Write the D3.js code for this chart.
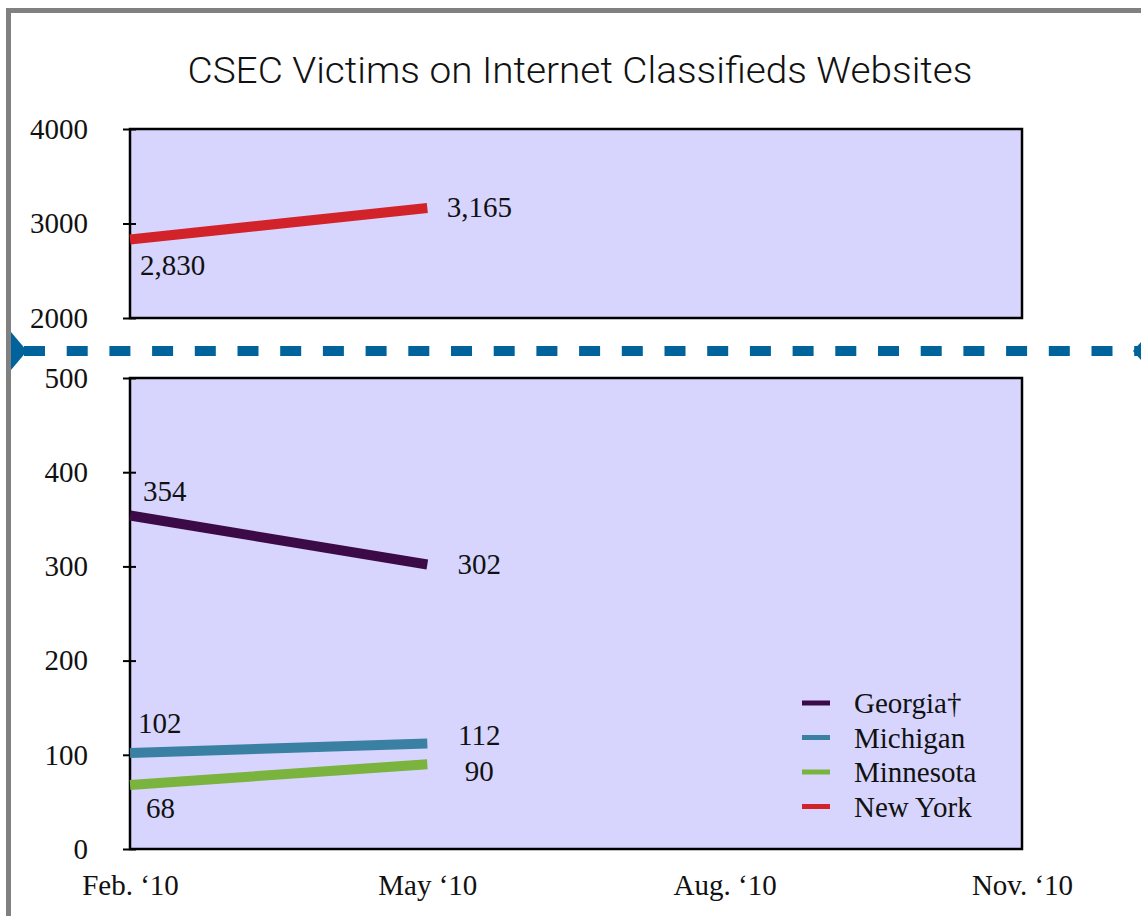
<!DOCTYPE html>
<html><head><meta charset="utf-8">
<script src="https://cdn.jsdelivr.net/npm/d3@7"></script>
<style>html,body{margin:0;padding:0;background:#fff;}svg{display:block;}</style>
</head><body>
<svg id="c" width="1141" height="916"></svg>
<script>
const periods = ["Feb. \u201810", "May \u201810", "Aug. \u201810", "Nov. \u201810"];
const seriesNames = ["Georgia\u2020", "Michigan", "Minnesota", "New York"];
const georgia = [354, 302];
const michigan = [102, 112];
const minnesota = [68, 90];
const newYork = [2830, 3165];
const topTicks = [2000, 3000, 4000];
const bottomTicks = [0, 100, 200, 300, 400, 500];
const colors = ["#3c0b47", "#3a80a2", "#7bb33f", "#d2232b"];

const series = [
  {name: seriesNames[0], values: georgia, color: colors[0], panel: "bottom",
   lab: [{dx: 13, dy: -15, anchor: "start"}, {dx: 52, dy: 9, anchor: "middle"}]},
  {name: seriesNames[1], values: michigan, color: colors[1], panel: "bottom",
   lab: [{dx: 8, dy: -20, anchor: "start"}, {dx: 52, dy: 2, anchor: "middle"}]},
  {name: seriesNames[2], values: minnesota, color: colors[2], panel: "bottom",
   lab: [{dx: 16, dy: 33, anchor: "start"}, {dx: 52, dy: 17, anchor: "middle"}]},
  {name: seriesNames[3], values: newYork, color: colors[3], panel: "top",
   lab: [{dx: 10, dy: 35, anchor: "start"}, {dx: 52, dy: 9, anchor: "middle"}]}
];

const svg = d3.select("#c");
const serif = "'Liberation Serif','Times New Roman',serif";
const fs = 29;

// outer gray frame
svg.append("rect").attr("x", 8.5).attr("y", 10.5).attr("width", 1200).attr("height", 1000)
  .attr("fill", "none").attr("stroke", "#808080").attr("stroke-width", 5);

// title
svg.append("text").attr("x", 580).attr("y", 83).attr("text-anchor", "middle")
  .attr("font-family", "Roboto,'Liberation Sans',Arial,sans-serif").attr("font-weight", 300)
  .attr("font-size", 37).attr("fill", "#111")
  .attr("textLength", 785).attr("lengthAdjust", "spacingAndGlyphs")
  .text("CSEC Victims on Internet Classifieds Websites");

const x = d3.scalePoint().domain(periods).range([130, 1022]);
const yTop = d3.scaleLinear().domain([2000, 4000]).range([318, 129]);
const yBot = d3.scaleLinear().domain([0, 500]).range([849, 378]);
const panelFill = "#d7d5fe";

function panel(y) {
  svg.append("rect").attr("x", x.range()[0]).attr("y", y.range()[1])
    .attr("width", x.range()[1] - x.range()[0]).attr("height", y.range()[0] - y.range()[1])
    .attr("fill", panelFill).attr("stroke", "#000").attr("stroke-width", 2.5);
}
panel(yTop);
panel(yBot);

function yAxis(y, ticks) {
  const g = svg.append("g").attr("transform", `translate(${x.range()[0]},0)`)
    .call(d3.axisLeft(y).tickValues(ticks).tickFormat(d3.format("d")).tickSize(7).tickPadding(35).tickSizeOuter(0));
  g.select(".domain").remove();
  g.selectAll(".tick line").attr("x1", 6).attr("x2", -7).attr("stroke", "#000").attr("stroke-width", 2);
  g.selectAll(".tick text").attr("font-family", serif).attr("font-size", fs).attr("fill", "#111");
}
yAxis(yTop, topTicks);
yAxis(yBot, bottomTicks);

// x axis
const xg = svg.append("g").attr("transform", `translate(0,${yBot.range()[0]})`)
  .call(d3.axisBottom(x).tickSize(0).tickPadding(25));
xg.select(".domain").remove();
xg.selectAll(".tick text").attr("font-family", serif).attr("font-size", fs).attr("fill", "#111");

// lines
const line = d3.line();
series.forEach(s => {
  const y = s.panel === "top" ? yTop : yBot;
  const pts = s.values.map((v, i) => [x(periods[i]), y(v)]);
  svg.append("path").attr("d", line(pts)).attr("fill", "none")
    .attr("stroke", s.color).attr("stroke-width", 10).attr("stroke-linecap", "butt");
  s.values.forEach((v, i) => {
    const l = s.lab[i];
    svg.append("text").attr("x", pts[i][0] + l.dx).attr("y", pts[i][1] + l.dy)
      .attr("text-anchor", l.anchor).attr("font-family", serif).attr("font-size", fs)
      .attr("fill", "#111").text(d3.format(",")(v));
  });
});

// legend
const lg = svg.append("g").attr("transform", "translate(802,703)");
series.forEach((s, i) => {
  lg.append("line").attr("x1", 0).attr("x2", 28).attr("y1", i * 34.5).attr("y2", i * 34.5)
    .attr("stroke", s.color).attr("stroke-width", 5);
  lg.append("text").attr("x", 52).attr("y", i * 34.5 + 10).attr("font-family", serif)
    .attr("font-size", fs).attr("fill", "#111").text(s.name);
});

// break indicator dashed line with arrows
const breakY = 351;
const blue = "#00639b";
svg.append("line").attr("x1", 24).attr("x2", 1141).attr("y1", breakY).attr("y2", breakY)
  .attr("stroke", blue).attr("stroke-width", 10).attr("stroke-dasharray", "21,21.7");
svg.append("path").attr("d", `M11,${breakY - 19} L27,${breakY} L11,${breakY + 19} Z`).attr("fill", blue);
svg.append("path").attr("d", `M1133,${breakY} L1150,${breakY - 19} L1150,${breakY + 19} Z`).attr("fill", blue);
</script>
</body></html>
